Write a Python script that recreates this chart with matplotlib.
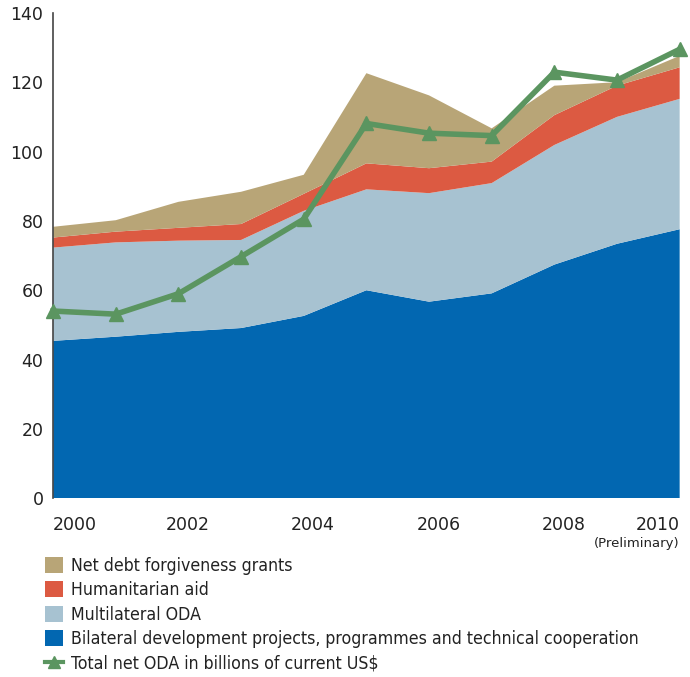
import matplotlib
matplotlib.use("Agg")

import matplotlib.pyplot as plt
from matplotlib.font_manager import FontProperties
from matplotlib.lines import Line2D
from matplotlib.patches import Patch
from matplotlib.transforms import blended_transform_factory

years = [2000, 2001, 2002, 2003, 2004, 2005, 2006, 2007, 2008, 2009, 2010]

# component values (billions of current US$), stacked bottom to top
bilateral = [45.4, 46.6, 48.0, 49.1, 52.6, 60.0, 56.7, 59.1, 67.4, 73.4, 77.6]
multilateral = [26.9, 27.2, 26.3, 25.4, 30.3, 29.1, 31.3, 31.8, 34.5, 36.6, 37.6]
humanitarian = [2.9, 3.1, 3.7, 4.6, 4.9, 7.5, 7.2, 6.2, 8.6, 9.0, 9.1]
debt_relief = [3.1, 3.3, 7.5, 9.3, 5.5, 26.0, 21.0, 9.6, 8.5, 1.0, 3.3]
total_oda = [54.0, 53.1, 59.0, 69.7, 80.5, 108.1, 105.3, 104.6, 122.9, 120.6, 129.5]

tick_years = [2000, 2002, 2004, 2006, 2008, 2010]
y_ticks = [0, 20, 40, 60, 80, 100, 120, 140]

labels = [
    "Bilateral development projects, programmes and technical cooperation",
    "Multilateral ODA",
    "Humanitarian aid",
    "Net debt forgiveness grants",
]
colours = ["#0267b1", "#a7c2d1", "#dc5a42", "#b8a577"]
LINE_COLOR = "#5b9560"
TEXT_COLOR = "#222222"

fig = plt.figure(figsize=(6.9, 6.77), dpi=100)
ax = fig.add_axes([0.077, 0.264, 0.908, 0.717])

ax.stackplot(years, bilateral, multilateral, humanitarian, debt_relief,
             colors=colours, linewidth=0)
ax.plot(years, total_oda, color=LINE_COLOR, lw=4, marker="^", ms=10,
        zorder=4, clip_on=False)

ax.set_xlim(years[0], years[-1])
ax.set_ylim(0, 140)
ax.set_yticks(y_ticks)
ax.tick_params(axis="y", length=0, pad=7, labelsize=12.5, colors=TEXT_COLOR)
ax.set_xticks([])
for s in ["top", "right", "bottom"]:
    ax.spines[s].set_visible(False)
ax.spines["left"].set_color("#444444")
ax.spines["left"].set_linewidth(1.2)

# year labels below the axis
trans = blended_transform_factory(ax.transData, ax.transAxes)
for yr in tick_years:
    if yr == years[0]:
        x, ha = yr, "left"
    elif yr == years[-1]:
        x, ha = yr, "right"
    else:
        x, ha = yr + 0.15, "center"
    ax.text(x, -0.037, str(yr), transform=trans, ha=ha, va="top",
            fontsize=12.5, color=TEXT_COLOR)
ax.text(years[-1], -0.08, "(Preliminary)", transform=trans, ha="right",
        va="top", fontsize=9.5, color=TEXT_COLOR)

leg_font = FontProperties(family="DejaVu Sans", stretch="condensed", size=12.7)
handles = [Patch(facecolor=c, edgecolor="none") for c in colours[::-1]]
handles.append(Line2D([], [], color=LINE_COLOR, lw=3, marker="^", ms=9))
leg_labels = labels[::-1] + ["Total net ODA in billions of current US$"]
fig.legend(handles, leg_labels, loc="upper left", bbox_to_anchor=(0.055, 0.188),
           frameon=False, prop=leg_font, handlelength=1.0, handleheight=1.0,
           handletextpad=0.5, labelspacing=0.37, borderaxespad=0,
           labelcolor=TEXT_COLOR)

fig.savefig("out.png", dpi=100)
